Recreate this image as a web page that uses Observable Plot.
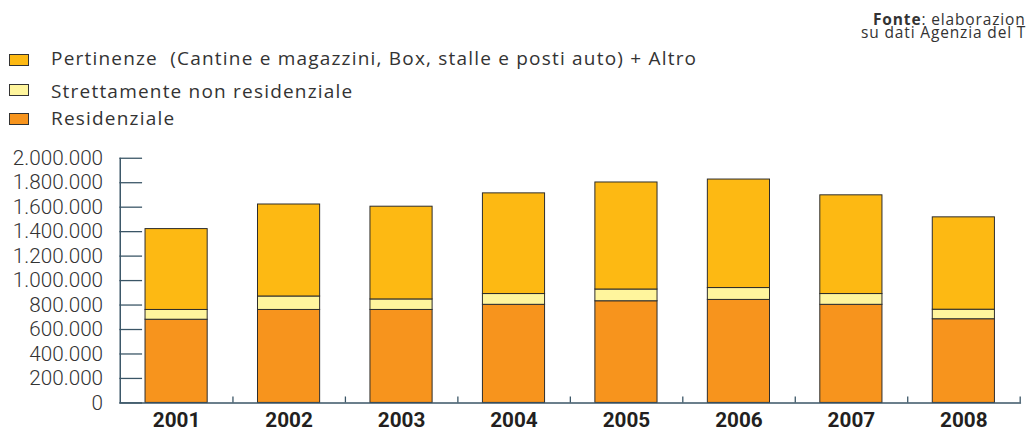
<!DOCTYPE html>
<html>
<head>
<meta charset="utf-8">
<script src="https://cdn.jsdelivr.net/npm/d3@7"></script>
<script src="https://cdn.jsdelivr.net/npm/@observablehq/plot@0.6"></script>
<style>
  html, body { margin: 0; padding: 0; background: #fff; }
  body { width: 1026px; height: 432px; overflow: hidden; position: relative; font-family: "Open Sans", Roboto, sans-serif; color: #333; }
  .src { position: absolute; white-space: nowrap; font-size: 15.5px; line-height: 13px; letter-spacing: 0.85px; color: #333; }
  .row { position: absolute; left: 51px; font-size: 19px; line-height: 20px; letter-spacing: 1.2px; color: #333; white-space: pre; }
  .sw { position: absolute; left: 9px; width: 18px; height: 10px; border: 1px solid #333; }
  #chart { position: absolute; left: 0; top: 140px; }
</style>
</head>
<body>
<div class="src" style="left:873px; top:12.5px"><b>Fonte</b>: elaborazioni</div>
<div class="src" style="left:861px; top:25.5px">su dati Agenzia del Territorio</div>
<div id="legend"></div>
<div id="chart"></div>
<script>
const years = ["2001", "2002", "2003", "2004", "2005", "2006", "2007", "2008"];
const seriesNames = [
  "Residenziale",
  "Strettamente non residenziale",
  "Pertinenze  (Cantine e magazzini, Box, stalle e posti auto) + Altro"
];
const residenziale = [680000, 760000, 760000, 802000, 831000, 842000, 802000, 684000];
const strettamente = [80000, 110000, 86000, 88000, 96000, 97000, 88000, 78000];
const pertinenze   = [661000, 752000, 758000, 823000, 875000, 887000, 807000, 755000];
const yTicks = [0, 200000, 400000, 600000, 800000, 1000000, 1200000, 1400000, 1600000, 1800000, 2000000];
const colors = ["#f7941d", "#fff59d", "#fdb913"];

const seriesValues = [residenziale, strettamente, pertinenze];
const data = [];
seriesNames.forEach((s, i) => years.forEach((y, j) => data.push({year: y, series: s, value: seriesValues[i][j]})));

// legend (top to bottom: pertinenze, strettamente, residenziale)
const legend = document.getElementById("legend");
const swatchTops = [54, 84.3, 113.3];
const textTops = [48.3, 81.2, 107.7];
[2, 1, 0].forEach((i, k) => {
  const sw = document.createElement("div");
  sw.className = "sw";
  sw.style.top = swatchTops[k] + "px";
  sw.style.background = colors[i];
  legend.appendChild(sw);
  const t = document.createElement("div");
  t.className = "row";
  t.style.top = textTops[k] + "px";
  t.textContent = seriesNames[i];
  legend.appendChild(t);
});

const locale = d3.formatLocale({decimal: ",", thousands: ".", grouping: [3], currency: ["", "€"]});
const fmt = locale.format(",d");

const W = 1040, ML = 121, MR = 5, MT = 18, MB = 26, H = 292;
const step = (W - ML - MR) / years.length;
const frameH = H - MT - MB;
const frameW = W - ML - MR;
const axisColor = "#3a5566";

const chart = Plot.plot({
  width: W,
  height: H,
  marginLeft: ML,
  marginRight: MR,
  marginTop: MT,
  marginBottom: MB,
  style: {fontFamily: "Roboto, sans-serif", background: "transparent", overflow: "visible"},
  x: {domain: years, paddingInner: 0.443, paddingOuter: 0.2215, label: null},
  y: {domain: [0, 2000000], label: null},
  color: {domain: seriesNames, range: colors},
  marks: [
    Plot.barY(data, {x: "year", y: "value", fill: "series", stroke: "#2b2b2b", strokeWidth: 1}),
    Plot.tickY(yTicks, {y: d => d, stroke: axisColor, strokeWidth: 1.3, insetRight: frameW - 23}),
    Plot.tickX(years, {x: d => d, dx: step / 2, stroke: axisColor, strokeWidth: 1.3, insetTop: frameH - 6}),
    Plot.ruleY([0], {stroke: axisColor, strokeWidth: 1.5}),
    Plot.ruleX([years[0]], {dx: -step / 2, y1: 0, y2: 2000000, stroke: axisColor, strokeWidth: 1.5}),
    Plot.axisY({ticks: yTicks, tickFormat: fmt, tickSize: 0, tickPadding: 17, fontSize: 21, fontWeight: 300, fill: "#333", label: null}),
    Plot.axisX({tickSize: 0, tickPadding: 9, fontSize: 21, fontWeight: "bold", fill: "#231f20", label: null})
  ]
});
document.getElementById("chart").appendChild(chart);
</script>
</body>
</html>
